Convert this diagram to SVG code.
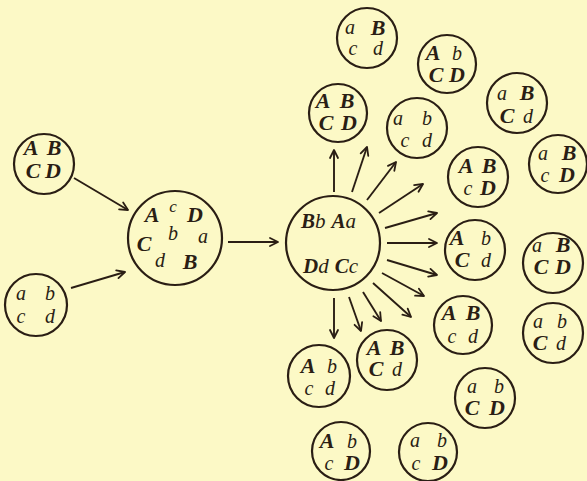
<svg xmlns="http://www.w3.org/2000/svg" width="587" height="481" viewBox="0 0 587 481">
<defs>
<marker id="ah" markerUnits="userSpaceOnUse" viewBox="-10 -6 12 12" markerWidth="12" markerHeight="12" refX="0" refY="0" orient="auto">
<path d="M-8,-4 L0,0 L-8,4" fill="none" stroke="#2a1e14" stroke-width="1.8" stroke-linecap="round" stroke-linejoin="round"/>
</marker>
</defs>
<style>
circle{fill:none;stroke:#2a1e14;stroke-width:2.2}
text{fill:#2a1e14;text-anchor:middle;font-family:"Liberation Serif","Times New Roman",serif;font-style:italic}
.U{font-weight:bold;font-size:22px}
.l{font-size:20px}
.conn line{stroke:#2a1e14;stroke-width:1.9;marker-end:url(#ah)}
.big text{text-anchor:start;font-size:21px}
.big .b{font-weight:bold}
</style>
<rect width="587" height="481" fill="#fcf9c6"/>

<g id="n1"><circle cx="44" cy="164" r="30"/>
<text class="U" x="31" y="155">A</text><text class="U" x="54" y="155">B</text>
<text class="U" x="33" y="178">C</text><text class="U" x="53" y="178">D</text></g>

<g id="n2"><circle cx="36" cy="305" r="31"/>
<text class="l" x="21" y="300">a</text><text class="l" x="50" y="300">b</text>
<text class="l" x="21" y="323">c</text><text class="l" x="50" y="323">d</text></g>

<g id="n3"><circle cx="175" cy="238" r="47"/>
<text class="U" x="152" y="222">A</text><text class="l" x="173" y="212" style="font-size:17px">c</text><text class="U" x="195" y="222">D</text>
<text class="U" x="144" y="251">C</text><text class="l" x="173" y="240">b</text><text class="l" x="203" y="243">a</text>
<text class="l" x="160" y="267">d</text><text class="U" x="190" y="269">B</text></g>

<g id="n4" class="big"><circle cx="333" cy="243" r="47"/>
<text x="301" y="228"><tspan class="b">B</tspan><tspan>b</tspan><tspan dx="6" class="b">A</tspan><tspan>a</tspan></text>
<text x="303" y="273"><tspan class="b">D</tspan><tspan>d</tspan><tspan dx="6" class="b">C</tspan><tspan>c</tspan></text></g>

<g id="a"><circle cx="367" cy="38" r="30"/>
<text class="l" x="350" y="34">a</text><text class="U" x="378" y="35">B</text>
<text class="l" x="353" y="55">c</text><text class="l" x="378" y="55">d</text></g>

<g id="b"><circle cx="338" cy="113" r="29"/>
<text class="U" x="323" y="108">A</text><text class="U" x="347" y="108">B</text>
<text class="U" x="326" y="130">C</text><text class="U" x="349" y="130">D</text></g>

<g id="c"><circle cx="417" cy="128" r="30"/>
<text class="l" x="398" y="125">a</text><text class="l" x="427" y="125">b</text>
<text class="l" x="405" y="147">c</text><text class="l" x="427" y="147">d</text></g>

<g id="d"><circle cx="447" cy="64" r="29"/>
<text class="U" x="433" y="60">A</text><text class="l" x="457" y="60">b</text>
<text class="U" x="436" y="82">C</text><text class="U" x="457" y="82">D</text></g>

<g id="e"><circle cx="517" cy="103" r="30"/>
<text class="l" x="502" y="100">a</text><text class="U" x="527" y="100">B</text>
<text class="U" x="507" y="123">C</text><text class="l" x="528" y="123">d</text></g>

<g id="f"><circle cx="558" cy="164" r="29"/>
<text class="l" x="543" y="160">a</text><text class="U" x="569" y="160">B</text>
<text class="l" x="545" y="182">c</text><text class="U" x="567" y="182">D</text></g>

<g id="g"><circle cx="478" cy="177" r="30"/>
<text class="U" x="466" y="173">A</text><text class="U" x="489" y="173">B</text>
<text class="l" x="468" y="195">c</text><text class="U" x="488" y="195">D</text></g>

<g id="h"><circle cx="475" cy="250" r="30"/>
<text class="U" x="457" y="245">A</text><text class="l" x="486" y="245">b</text>
<text class="U" x="462" y="267">C</text><text class="l" x="486" y="267">d</text></g>

<g id="i"><circle cx="553" cy="263" r="30"/>
<text class="l" x="537" y="252">a</text><text class="U" x="563" y="252">B</text>
<text class="U" x="541" y="274">C</text><text class="U" x="563" y="274">D</text></g>

<g id="j"><circle cx="463" cy="325" r="29"/>
<text class="U" x="449" y="320">A</text><text class="U" x="473" y="320">B</text>
<text class="l" x="452" y="343">c</text><text class="l" x="473" y="343">d</text></g>

<g id="k"><circle cx="553" cy="333" r="30"/>
<text class="l" x="538" y="328">a</text><text class="l" x="562" y="328">b</text>
<text class="U" x="540" y="350">C</text><text class="l" x="561" y="350">d</text></g>

<g id="l"><circle cx="319" cy="376" r="31"/>
<text class="U" x="308" y="373">A</text><text class="l" x="332" y="373">b</text>
<text class="l" x="309" y="395">c</text><text class="l" x="330" y="395">d</text></g>

<g id="m"><circle cx="387" cy="360" r="30"/>
<text class="U" x="374" y="355">A</text><text class="U" x="397" y="355">B</text>
<text class="U" x="376" y="376">C</text><text class="l" x="397" y="376">d</text></g>

<g id="n"><circle cx="485" cy="398" r="30"/>
<text class="l" x="472" y="393">a</text><text class="l" x="499" y="393">b</text>
<text class="U" x="472" y="415">C</text><text class="U" x="497" y="415">D</text></g>

<g id="o"><circle cx="341" cy="451" r="29"/>
<text class="U" x="327" y="448">A</text><text class="l" x="352" y="448">b</text>
<text class="l" x="329" y="470">c</text><text class="U" x="352" y="470">D</text></g>

<g id="p"><circle cx="428" cy="452" r="29"/>
<text class="l" x="415" y="447">a</text><text class="l" x="442" y="447">b</text>
<text class="l" x="416" y="470">c</text><text class="U" x="440" y="470">D</text></g>

<g id="connectors" class="conn">
<line x1="74" y1="178" x2="128" y2="210"/>
<line x1="71" y1="288" x2="125" y2="272"/>
<line x1="228" y1="242" x2="278" y2="242"/>
<line x1="334" y1="192" x2="334" y2="150"/>
<line x1="352" y1="192" x2="367" y2="147"/>
<line x1="367" y1="200" x2="396" y2="162"/>
<line x1="379" y1="213" x2="423" y2="184"/>
<line x1="385" y1="228" x2="437" y2="213"/>
<line x1="387" y1="243" x2="437" y2="243"/>
<line x1="387" y1="260" x2="437" y2="275"/>
<line x1="382" y1="273" x2="424" y2="296"/>
<line x1="373" y1="283" x2="411" y2="317"/>
<line x1="363" y1="292" x2="381" y2="321"/>
<line x1="349" y1="297" x2="361" y2="331"/>
<line x1="334" y1="298" x2="334" y2="338"/>
</g>
</svg>
